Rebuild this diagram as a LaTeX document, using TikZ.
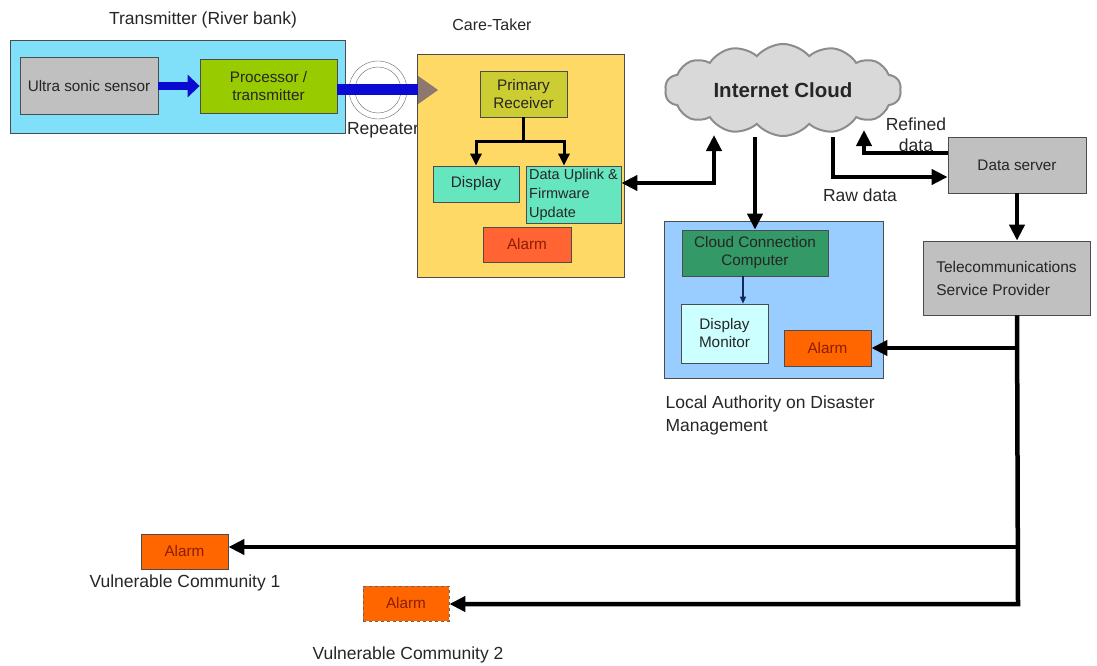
\documentclass[tikz,border=0pt]{standalone}
\usepackage{fontspec}
\setmainfont{Liberation Sans}
\usetikzlibrary{arrows.meta,shapes.symbols}
\definecolor{txbg}{RGB}{128,224,250}
\definecolor{boxgray}{RGB}{192,192,192}
\definecolor{procgreen}{RGB}{153,204,0}
\definecolor{carebg}{RGB}{255,217,102}
\definecolor{recvolive}{RGB}{204,204,51}
\definecolor{mint}{RGB}{102,230,190}
\definecolor{alarmred}{RGB}{255,100,50}
\definecolor{alarmorange}{RGB}{255,102,0}
\definecolor{alarmtext}{RGB}{140,30,0}
\definecolor{cloudgray}{RGB}{217,217,217}
\definecolor{authblue}{RGB}{153,204,255}
\definecolor{compgreen}{RGB}{51,153,102}
\definecolor{monitorbg}{RGB}{204,255,255}
\definecolor{linkblue}{RGB}{10,10,210}
\definecolor{tipbrown}{RGB}{140,120,110}
\definecolor{navy}{RGB}{20,40,90}
\begin{document}
\begin{tikzpicture}[x=1pt,y=-1pt,line join=miter,
  every node/.style={font=\fontsize{15.3}{18}\selectfont,text=black!85},
  lbl/.style={font=\fontsize{17.5}{23}\selectfont},
  box/.style={draw=black!70,line width=.8pt,inner sep=2pt},
  wh/.style 2 args={minimum width=#1,minimum height=#2},
  bigtip/.tip={Triangle[length=16pt,width=15pt]},
  big/.style={line width=4.5pt,-bigtip},
  med/.style={line width=3pt,-{Triangle[length=12pt,width=11pt]}}]
  \useasboundingbox (0,0) rectangle (1097,666);
  \node[box,fill=txbg,wh={335}{93}] (tx) at (177.5,86.5) {};
  \node[lbl] (txlbl) at (203,20) {Transmitter (River bank)};
  \node[box,fill=boxgray,wh={138}{57}] (sensor) at (89,86) {Ultra sonic sensor};
  \node[box,fill=procgreen,wh={137}{54},align=center] (proc) at (268.5,86) {Processor /\\transmitter};
  \draw[line width=8pt,linkblue,-{Triangle[length=12pt,width=22pt]}] (sensor) -- (proc);
  \node[circle,draw=black!60,minimum size=58,inner sep=0] (rep) at (378,90) {};
  \node[circle,draw=black!60,minimum size=46,inner sep=0] (repin) at (rep) {};
  \node[lbl] (replbl) at (383,130) {Repeater};
  \node[box,fill=carebg,wh={207}{223}] (care) at (520.5,165.5) {};
  \node[font=\fontsize{16}{20}\selectfont] (carelbl) at (492,25) {Care-Taker};
  \coordinate (rb) at (418,90);
  \draw[line width=11pt,linkblue] (proc.east |- rb) -- (rb);
  \draw[tipbrown,line width=1pt,-{Triangle[length=20pt,width=28pt]}] (rb) -- ++(20,0);
  \node[box,fill=recvolive,wh={87}{46},align=center] (prim) at (523.5,94) {Primary\\Receiver};
  \node[box,fill=mint,wh={86}{36}] (disp) at (476,184) {Display};
  \node[box,fill=mint,wh={95}{57},align=left,font=\fontsize{14.5}{19}\selectfont] (upl) at (573.5,194.5) {Data Uplink \&\\Firmware\\Update};
  \node[box,fill=alarmred,wh={88}{35},text=alarmtext] (alarmA) at (527,244.5) {Alarm};
  \coordinate (split) at (523.5,141);
  \draw[med] (prim) -- (split) -| (disp);
  \draw[med] (split) -| ([xshift=-9.5pt]upl.north);
  \node[cloud,cloud puffs=14,cloud puff arc=100,cloud ignores aspect,draw=black!45,line width=2pt,fill=cloudgray,
    wh={236}{92},font=\fontsize{20.5}{24}\selectfont\bfseries] (cloud) at (783,90) {Internet Cloud};
  \coordinate (c1) at (714,135);
  \coordinate (c2) at (755,137);
  \coordinate (c3) at (833,137);
  \coordinate (c4) at (864,130);
  \draw[big,bigtip-bigtip] ([yshift=11.5pt]upl.east) -| (c1);
  \node[box,fill=boxgray,wh={138}{56}] (ds) at (1017,165) {Data server};
  \draw[big] (c3) |- ([yshift=-12pt]ds.west);
  \node[lbl] (rawlbl) at (860,195) {Raw data};
  \draw[big] ([yshift=12pt]ds.west) -| (c4);
  \node[lbl,align=center,font=\fontsize{17.5}{21}\selectfont] (reflbl) at (916,135) {Refined\\data};
  \node[box,fill=boxgray,wh={167}{74},align=left,font=\fontsize{15.5}{23}\selectfont] (tel) at (1006.5,278) {Telecommunications\\Service Provider};
  \draw[big] (ds) -- (ds.south |- tel.north);
  \node[box,fill=authblue,wh={219}{157}] (auth) at (773.5,299.5) {};
  \node[box,fill=compgreen,wh={146}{46},align=center] (ccc) at (755,253) {Cloud Connection\\Computer};
  \node[box,fill=monitorbg,wh={87}{59},align=center] (mon) at (724.5,333.5) {Display\\Monitor};
  \node[box,fill=alarmorange,wh={87}{36},text=alarmtext] (alarmL) at (827.5,348) {Alarm};
  \draw[navy,line width=1.2pt,-{Triangle[length=7pt,width=6pt]}] ([xshift=-12pt]ccc.south) -- ([xshift=-12pt]ccc.south |- mon.north);
  \draw[big] (c2) -- (ccc);
  \node[lbl,align=left,anchor=north west] (authlbl) at (662,392) {Local Authority on Disaster\\Management};
  \node[box,fill=alarmorange,wh={87}{35},text=alarmtext] (alarm1) at (184.5,551.5) {Alarm};
  \node[lbl] (com1) at (185,583) {Vulnerable Community 1};
  \node[box,dashed,draw=black!60,fill=alarmorange,wh={86}{35},text=alarmtext] (alarm2) at (406,603.5) {Alarm};
  \node[lbl] (com2) at (408,655) {Vulnerable Community 2};
  \coordinate (j1) at (1018,348);
  \coordinate (j2) at (1018,547);
  \coordinate (j3) at (1018,604);
  \draw[big] (ds.south |- tel.south) -- (j3) -- (j3 -| alarm2.east);
  \draw[big] (j1) -- (alarmL);
  \draw[big] (j2) -- (j2 -| alarm1.east);
\end{tikzpicture}
\end{document}
